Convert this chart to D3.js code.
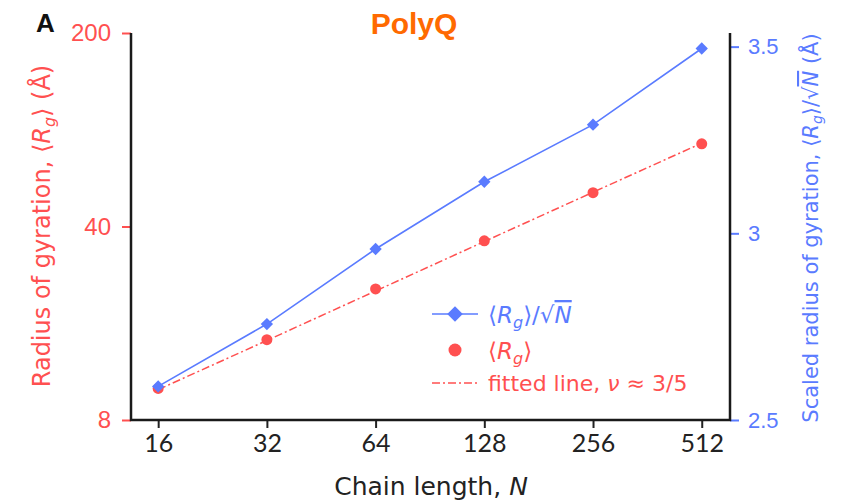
<!DOCTYPE html>
<html>
<head>
<meta charset="utf-8">
<script src="https://cdn.jsdelivr.net/npm/d3@7"></script>
<style>
  body { margin: 0; background: #fff; }
  text { font-family: "DejaVu Sans", sans-serif; }
</style>
</head>
<body>
<div id="chart"></div>
<script>
// ---- data ----
const chainN = [16, 32, 64, 128, 256, 512];
const rgScaled = [2.59, 2.757, 2.958, 3.138, 3.291, 3.495];   // <Rg>/sqrt(N), right axis
const rgValues = [10.4, 15.6, 23.8, 35.5, 53.0, 79.6];         // <Rg>, left axis
const fitValues = [10.3, 15.5, 23.4, 35.3, 53.2, 80.0];        // fitted line, nu ~ 3/5
const leftTicks = [8, 40, 200];
const rightTicks = [2.5, 3, 3.5];

const red = "#ff5050", blue = "#5a7bff", orange = "#ff6a00";

const W = 851, H = 504;
const margin = { top: 33, right: 121, bottom: 84, left: 131 };
const width = W - margin.left - margin.right;
const height = H - margin.top - margin.bottom;

const svg = d3.select("#chart").append("svg")
  .attr("width", W).attr("height", H);
const g = svg.append("g")
  .attr("transform", `translate(${margin.left},${margin.top})`);

// scales
const x = d3.scaleLog().base(2)
  .domain([16 / Math.pow(2, 0.25), 512 * Math.pow(2, 0.26)])
  .range([0, width]);
const yL = d3.scaleLog().domain([8, 200]).range([height, 0]);
const yR = d3.scaleLinear().domain([2.5, 3.5365]).range([height, 0]);

// axes
const xAxis = d3.axisBottom(x).tickValues(chainN).tickFormat(d3.format("d"))
  .tickSize(8).tickPadding(6);
const leftAxis = d3.axisLeft(yL).tickValues(leftTicks).tickFormat(d3.format("d"))
  .tickSize(9).tickPadding(11);
const rightAxis = d3.axisRight(yR).tickValues(rightTicks).tickFormat(d => d)
  .tickSize(9).tickPadding(9);

const gx = g.append("g").attr("transform", `translate(0,${height})`).call(xAxis);
gx.select(".domain").remove();
gx.selectAll(".tick line").attr("stroke", "#222").attr("stroke-width", 2);
gx.selectAll(".tick text").attr("fill", "#222").style("font-size", "25px")
  .style("font-family", "Lato, 'Liberation Sans', sans-serif");

const gl = g.append("g").call(leftAxis);
gl.select(".domain").remove();
gl.selectAll(".tick line").attr("stroke", red).attr("stroke-width", 2);
gl.selectAll(".tick text").attr("fill", red).style("font-size", "24px")
  .style("font-family", "'Liberation Sans', Arial, sans-serif");

const gr = g.append("g").attr("transform", `translate(${width},0)`).call(rightAxis);
gr.select(".domain").remove();
gr.selectAll(".tick line").attr("stroke", blue).attr("stroke-width", 2);
gr.selectAll(".tick text").attr("fill", blue).style("font-size", "22px")
  .style("font-family", "'Liberation Sans', Arial, sans-serif");

// spines (open top)
g.append("path")
  .attr("d", `M0,0V${height}H${width}V0`)
  .attr("fill", "none").attr("stroke", "#1a1a1a").attr("stroke-width", 2.5);

// fitted line
const fitLine = d3.line().x((d, i) => x(chainN[i])).y(d => yL(d));
g.append("path").datum(fitValues)
  .attr("d", fitLine)
  .attr("fill", "none").attr("stroke", red).attr("stroke-width", 1.5)
  .attr("stroke-dasharray", "8,3,2,3");

// Rg points
g.selectAll(".rg").data(rgValues).enter().append("circle")
  .attr("class", "rg")
  .attr("cx", (d, i) => x(chainN[i])).attr("cy", d => yL(d))
  .attr("r", 5.5).attr("fill", red);

// scaled line + diamonds
const scLine = d3.line().x((d, i) => x(chainN[i])).y(d => yR(d));
g.append("path").datum(rgScaled)
  .attr("d", scLine)
  .attr("fill", "none").attr("stroke", blue).attr("stroke-width", 1.6);

const diamond = d3.symbol().type(d3.symbolSquare).size(76);
g.selectAll(".sc").data(rgScaled).enter().append("path")
  .attr("class", "sc")
  .attr("d", diamond)
  .attr("transform", (d, i) => `translate(${x(chainN[i])},${yR(d)}) rotate(45)`)
  .attr("fill", blue);

// titles
svg.append("text").attr("x", 414).attr("y", 34).attr("text-anchor", "middle")
  .attr("fill", orange).style("font-size", "30px").style("font-weight", "bold")
  .style("font-family", "'Liberation Sans', Arial, sans-serif")
  .text("PolyQ");
svg.append("text").attr("x", 36).attr("y", 32)
  .attr("fill", "#111").style("font-size", "26px").style("font-weight", "bold")
  .style("font-family", "'Liberation Sans', Arial, sans-serif")
  .text("A");

// x label
svg.append("text").attr("x", 431).attr("y", 495)
  .attr("text-anchor", "middle").attr("fill", "#222")
  .style("font-size", "25px")
  .html("Chain length, <tspan font-style='italic'>N</tspan>");

// left label
const ll = svg.append("text")
  .attr("transform", `translate(50,226) rotate(-90)`)
  .attr("text-anchor", "middle").attr("fill", red).style("font-size", "24px");
ll.append("tspan").text("Radius of gyration, \u27E8");
ll.append("tspan").attr("font-style", "italic").text("R");
ll.append("tspan").attr("font-style", "italic").attr("dy", 5).style("font-size", "16px").text("g");
ll.append("tspan").attr("dy", -5).text("\u27E9 (\u00C5)");

// right label
const rl = svg.append("text")
  .attr("transform", `translate(818,228) rotate(-90)`)
  .attr("text-anchor", "middle").attr("fill", blue).style("font-size", "21px");
rl.append("tspan").text("Scaled radius of gyration, \u27E8");
rl.append("tspan").attr("font-style", "italic").text("R");
rl.append("tspan").attr("font-style", "italic").attr("dy", 4).style("font-size", "14px").text("g");
rl.append("tspan").attr("dy", -4).text("\u27E9/\u221A");
rl.append("tspan").attr("font-style", "italic").style("text-decoration", "overline").text("N");
rl.append("tspan").text(" (\u00C5)");

// legend
const lg = svg.append("g").attr("transform", "translate(432,314)");
lg.append("line").attr("x1", 0).attr("x2", 46).attr("y1", 0).attr("y2", 0)
  .attr("stroke", blue).attr("stroke-width", 1.6);
lg.append("path").attr("d", d3.symbol().type(d3.symbolSquare).size(120))
  .attr("transform", "translate(23,0) rotate(45)").attr("fill", blue);
lg.append("circle").attr("cx", 23).attr("cy", 36).attr("r", 6.5).attr("fill", red);
lg.append("line").attr("x1", 0).attr("x2", 46).attr("y1", 69).attr("y2", 69)
  .attr("stroke", red).attr("stroke-width", 1.5).attr("stroke-dasharray", "8,3,2,3");

const t1 = lg.append("text").attr("x", 56).attr("y", 9).attr("fill", blue).style("font-size", "23px");
t1.append("tspan").text("\u27E8");
t1.append("tspan").attr("font-style", "italic").text("R");
t1.append("tspan").attr("font-style", "italic").attr("dy", 5).style("font-size", "16px").text("g");
t1.append("tspan").attr("dy", -5).text("\u27E9/\u221A");
t1.append("tspan").attr("font-style", "italic").style("text-decoration", "overline").text("N");

const t2 = lg.append("text").attr("x", 56).attr("y", 45).attr("fill", red).style("font-size", "23px");
t2.append("tspan").text("\u27E8");
t2.append("tspan").attr("font-style", "italic").text("R");
t2.append("tspan").attr("font-style", "italic").attr("dy", 5).style("font-size", "16px").text("g");
t2.append("tspan").attr("dy", -5).text("\u27E9");

const t3 = lg.append("text").attr("x", 56).attr("y", 77).attr("fill", red).style("font-size", "22px");
t3.append("tspan").text("fitted line, ");
t3.append("tspan").attr("font-style", "italic").text("\u03BD");
t3.append("tspan").text(" \u2248 3/5");
</script>
</body>
</html>
